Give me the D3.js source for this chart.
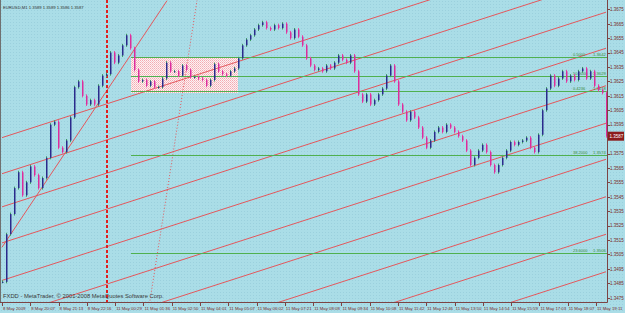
<!DOCTYPE html>
<html>
<head>
<meta charset="utf-8">
<script src="https://cdn.jsdelivr.net/npm/d3@7"></script>
<style>
  body { margin: 0; background: #a9dce6; overflow: hidden; }
  svg { display: block; }
  text { font-family: "Liberation Sans", Arial, sans-serif; }
</style>
</head>
<body>
<div id="chartArea"></div>
<script>
// EURUSD M1 closes, one value per drawn bar
const closes = [
  1.3486, 1.3519, 1.3533, 1.3551, 1.3562, 1.3546, 1.3555, 1.3566, 1.3560, 1.3551,
  1.3558, 1.3572, 1.3595, 1.3597, 1.3579, 1.3576, 1.3584, 1.3600, 1.3621, 1.3625,
  1.3615, 1.3609, 1.3612, 1.3609, 1.3622, 1.3629, 1.3630, 1.3645, 1.3638, 1.3643,
  1.3650, 1.3657, 1.3648, 1.3633, 1.3625, 1.3626, 1.3622, 1.3625, 1.3621, 1.3621,
  1.3627, 1.3638, 1.3632, 1.3632, 1.3629, 1.3636, 1.3633, 1.3628, 1.3628, 1.3627,
  1.3626, 1.3622, 1.3626, 1.3637, 1.3632, 1.3630, 1.3629, 1.3632, 1.3634, 1.3641,
  1.3650, 1.3654, 1.3657, 1.3661, 1.3664, 1.3666, 1.3662, 1.3661, 1.3664, 1.3662,
  1.3665, 1.3659, 1.3655, 1.3661, 1.3656, 1.3650, 1.3641, 1.3636, 1.3633, 1.3634,
  1.3632, 1.3636, 1.3634, 1.3638, 1.3643, 1.3640, 1.3638, 1.3643, 1.3632, 1.3616,
  1.3611, 1.3616, 1.3609, 1.3612, 1.3616, 1.3620, 1.3629, 1.3636, 1.3625, 1.3609,
  1.3604, 1.3598, 1.3604, 1.3600, 1.3593, 1.3586, 1.3579, 1.3584, 1.3590, 1.3593,
  1.3590, 1.3595, 1.3593, 1.3590, 1.3587, 1.3584, 1.3577, 1.3567, 1.3572, 1.3577,
  1.3581, 1.3576, 1.3567, 1.3562, 1.3567, 1.3572, 1.3577, 1.3583, 1.3581, 1.3583,
  1.3584, 1.3586, 1.3579, 1.3576, 1.3588, 1.3605, 1.3620, 1.3629, 1.3622, 1.3627,
  1.3632, 1.3625, 1.3629, 1.3626, 1.3632, 1.3634, 1.3627, 1.3632, 1.3622, 1.3619,
  1.3617, 1.3587
];

const priceTicks = [1.3675, 1.3665, 1.3655, 1.3645, 1.3635, 1.3625, 1.3615, 1.3605,
  1.3595, 1.3585, 1.3575, 1.3565, 1.3555, 1.3545, 1.3535, 1.3525, 1.3515, 1.3505,
  1.3495, 1.3485, 1.3475];

const timeLabels = ["8 May 2009", "8 May 20:07", "8 May 21:13", "8 May 22:16",
  "11 May 00:29", "11 May 01:36", "11 May 02:50", "11 May 04:01", "11 May 05:07",
  "11 May 06:02", "11 May 07:21", "11 May 08:08", "11 May 09:34", "11 May 10:08",
  "11 May 11:42", "11 May 12:46", "11 May 13:50", "11 May 14:54", "11 May 15:59",
  "11 May 17:03", "11 May 18:07", "11 May 19:11"];

// fibo / level lines
const fibPrices = [1.3642, 1.3629, 1.3618, 1.3574, 1.3506];
const fibNames  = ["0.5000", "50.0000", "0.4236", "38.2000", "23.6000"];
const fibStartBar = 32.25;

// pink rectangle
const boxBars   = [32.25, 59];
const boxPrices = [1.3642, 1.3617];

// parallel channel lines: price at first bar and at last bar
const channelStart = [1.3586, 1.3561, 1.3538, 1.3513, 1.3487, 1.3461, 1.3436, 1.3410, 1.3384, 1.3358];
const channelEnd   = [1.3721, 1.3696, 1.3673, 1.3648, 1.3622, 1.3596, 1.3571, 1.3545, 1.3519, 1.3493];

// trend line and dotted line (bar, price pairs)
const trendLine  = [[0, 1.3510], [41.25, 1.3681]];
const dottedLine = [[37, 1.3473], [48.75, 1.3681]];
const vlineBar = 26.25;

const lastPrice = 1.3587;
const title = "EURUSD,M1  1.3589 1.3589 1.3586 1.3587";
const copyright = "FXDD - MetaTrader, \u00a9 2001-2008 MetaQuotes Software Corp.";

const W = 625, H = 313;
const plotR = 607, plotB = 302;
const red = "#e4575c";

const svg = d3.select("#chartArea").append("svg")
  .attr("width", W).attr("height", H);

const x = d3.scaleLinear().domain([0, closes.length - 1]).range([2, 606]);
const y = d3.scaleLinear().domain([1.3475, 1.3675]).range([297.7, 9.3]);
const xt = d3.scaleLinear().domain([0, timeLabels.length - 1]).range([2, 596]);

const defs = svg.append("defs");
defs.append("clipPath").attr("id", "plot")
  .append("rect").attr("x", 0).attr("y", 0).attr("width", plotR).attr("height", plotB);

// speckled background like the screenshot
const bg = defs.append("pattern").attr("id", "bgdots")
  .attr("width", 3).attr("height", 3).attr("patternUnits", "userSpaceOnUse");
bg.append("rect").attr("width", 3).attr("height", 3).attr("fill", "#aadde7");
bg.append("rect").attr("x", 1).attr("y", 1).attr("width", 1).attr("height", 1).attr("fill", "#9bd0dd");

const pat = defs.append("pattern").attr("id", "chk")
  .attr("width", 2).attr("height", 2).attr("patternUnits", "userSpaceOnUse");
pat.append("rect").attr("width", 2).attr("height", 2).attr("fill", "#fdf1f3");
pat.append("rect").attr("width", 1).attr("height", 1).attr("fill", "#f3aab1");
pat.append("rect").attr("x", 1).attr("y", 1).attr("width", 1).attr("height", 1).attr("fill", "#f6c4c9");

svg.append("rect").attr("width", W).attr("height", H).attr("fill", "url(#bgdots)");

const g = svg.append("g").attr("clip-path", "url(#plot)");

// rectangle
g.append("rect")
  .attr("x", x(boxBars[0])).attr("y", y(boxPrices[0]))
  .attr("width", x(boxBars[1]) - x(boxBars[0]))
  .attr("height", y(boxPrices[1]) - y(boxPrices[0]))
  .attr("fill", "url(#chk)");

// channel lines
g.selectAll(".chan").data(channelStart).enter().append("line")
  .attr("x1", x(0)).attr("y1", d => y(d))
  .attr("x2", x(closes.length - 1)).attr("y2", (d, i) => y(channelEnd[i]))
  .attr("stroke", red).attr("stroke-width", 1);

// trend line
g.append("line")
  .attr("x1", x(trendLine[0][0])).attr("y1", y(trendLine[0][1]))
  .attr("x2", x(trendLine[1][0])).attr("y2", y(trendLine[1][1]))
  .attr("stroke", red).attr("stroke-width", 1);

g.append("line")
  .attr("x1", x(dottedLine[0][0])).attr("y1", y(dottedLine[0][1]))
  .attr("x2", x(dottedLine[1][0])).attr("y2", y(dottedLine[1][1]))
  .attr("stroke", red).attr("stroke-width", 1).attr("stroke-dasharray", "1,2");

// vertical dashed line
g.append("line")
  .attr("x1", Math.round(x(vlineBar))).attr("x2", Math.round(x(vlineBar)))
  .attr("y1", 0).attr("y2", plotB)
  .attr("stroke", "#e01e1e").attr("stroke-width", 2).attr("stroke-dasharray", "3,2");

// fibo levels
g.selectAll(".fib").data(fibPrices).enter().append("line")
  .attr("x1", x(fibStartBar)).attr("x2", plotR)
  .attr("y1", d => Math.round(y(d)) + 0.5).attr("y2", d => Math.round(y(d)) + 0.5)
  .attr("stroke", "#4fb04f").attr("stroke-width", 1.2);

g.selectAll(".fibname").data(fibPrices).enter().append("text")
  .attr("x", 573).attr("y", d => Math.round(y(d)) - 1)
  .attr("font-size", 4).attr("fill", "#3c8c3c")
  .text((d, i) => fibNames[i]);

g.selectAll(".fibprice").data(fibPrices).enter().append("text")
  .attr("x", 593).attr("y", d => Math.round(y(d)) - 1)
  .attr("font-size", 4.2).attr("fill", "#3c8c3c")
  .text(d => d.toFixed(4));

// candles
const openOf = i => i ? closes[i - 1] : closes[i];
const isDown = (d, i) => d < openOf(i);
const bars = g.selectAll(".bar").data(closes).enter().append("g");
bars.append("line")
  .attr("x1", (d, i) => x(i) + 0.5).attr("x2", (d, i) => x(i) + 0.5)
  .attr("y1", (d, i) => Math.min(y(d), y(openOf(i))) - 1.5)
  .attr("y2", (d, i) => Math.max(y(d), y(openOf(i))) + 1.5)
  .attr("stroke", (d, i) => isDown(d, i) ? "#e64aa6" : "#3d9c62")
  .attr("stroke-width", 1);
bars.append("rect")
  .attr("x", (d, i) => x(i))
  .attr("width", 1.5)
  .attr("y", (d, i) => Math.min(y(d), y(openOf(i))))
  .attr("height", (d, i) => Math.max(1, Math.abs(y(d) - y(openOf(i)))))
  .attr("fill", (d, i) => isDown(d, i) ? "#dc2c9c" : "#2a2a8c");

// axes frame
const axisCol = "#7c4444";
svg.append("line").attr("x1", 0.5).attr("x2", 0.5).attr("y1", 0).attr("y2", plotB)
  .attr("stroke", "#707070");
svg.append("line").attr("x1", plotR + 0.5).attr("x2", plotR + 0.5).attr("y1", 0).attr("y2", plotB + 0.5)
  .attr("stroke", axisCol);
svg.append("line").attr("x1", 0).attr("x2", plotR + 0.5).attr("y1", plotB + 0.5).attr("y2", plotB + 0.5)
  .attr("stroke", axisCol);

// price axis
svg.selectAll(".pt").data(priceTicks).enter().append("line")
  .attr("x1", plotR).attr("x2", plotR + 3)
  .attr("y1", d => Math.round(y(d)) + 0.5).attr("y2", d => Math.round(y(d)) + 0.5)
  .attr("stroke", axisCol);
svg.selectAll(".pl").data(priceTicks.filter(d => Math.abs(y(d) - y(lastPrice)) > 4)).enter().append("text")
  .attr("x", 610).attr("y", d => y(d) + 1.8)
  .attr("font-size", 4.5).attr("fill", "#7a2a2a")
  .text(d => d.toFixed(4));

// current price box
svg.append("rect")
  .attr("x", 608).attr("y", y(lastPrice) - 4.5).attr("width", 16).attr("height", 9)
  .attr("fill", "#8c1c1c");
svg.append("text")
  .attr("x", 609.5).attr("y", y(lastPrice) + 1.8)
  .attr("font-size", 4.5).attr("fill", "#ffffff")
  .text(lastPrice.toFixed(4));

// time axis
svg.selectAll(".tt").data(timeLabels).enter().append("line")
  .attr("x1", (d, i) => Math.round(xt(i)) + 0.5).attr("x2", (d, i) => Math.round(xt(i)) + 0.5)
  .attr("y1", plotB).attr("y2", plotB + 4)
  .attr("stroke", axisCol);
svg.selectAll(".tl").data(timeLabels).enter().append("text")
  .attr("x", (d, i) => xt(i) + 1).attr("y", 309.5)
  .attr("font-size", 4.3).attr("fill", "#7a2a2a")
  .text(d => d);

// title + copyright
svg.append("text").attr("x", 3).attr("y", 9)
  .attr("font-size", 4.2).attr("fill", "#333333")
  .text(title);
svg.append("text").attr("x", 3).attr("y", 298)
  .attr("font-size", 5.8).attr("fill", "#3a3a3a")
  .text(copyright);
</script>
</body>
</html>
